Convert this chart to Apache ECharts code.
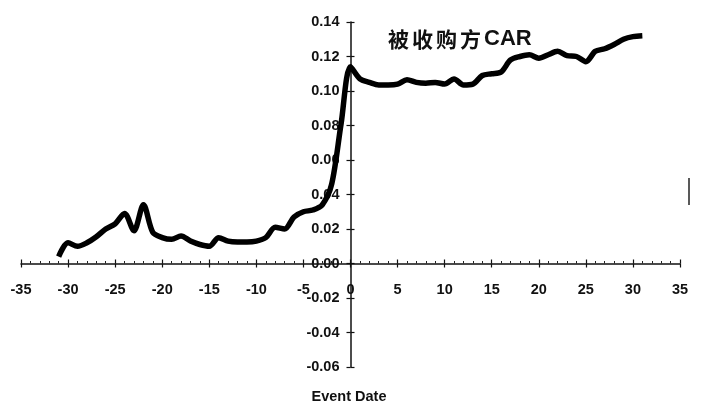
<!DOCTYPE html>
<html><head><meta charset="utf-8">
<script src="https://cdn.jsdelivr.net/npm/echarts@6/dist/echarts.min.js"></script>
<style>html,body{margin:0;padding:0;background:#fff}#c{width:702px;height:410px}</style>
</head><body><div id="c"></div>
<script>
const eventDays = [-31,-30,-29,-28,-27,-26,-25,-24,-23,-22,-21,-20,-19,-18,-17,-16,-15,-14,-13,-12,-11,-10,-9,-8,-7,-6,-5,-4,-3,-2,-1,0,1,2,3,4,5,6,7,8,9,10,11,12,13,14,15,16,17,18,19,20,21,22,23,24,25,26,27,28,29,30,31];
const targetCAR = [0.004,0.012,0.010,0.012,0.0155,0.020,0.023,0.029,0.019,0.034,0.018,0.015,0.014,0.016,0.013,0.011,0.010,0.015,0.013,0.0125,0.0125,0.013,0.015,0.021,0.020,0.027,0.030,0.031,0.034,0.046,0.081,0.114,0.107,0.105,0.1035,0.1035,0.104,0.1065,0.105,0.1045,0.105,0.104,0.107,0.1035,0.104,0.109,0.110,0.111,0.118,0.120,0.121,0.119,0.121,0.123,0.1205,0.120,0.117,0.123,0.1245,0.127,0.130,0.1315,0.132];
const xRange = [-35, 35, 5];
const yRange = [-0.06, 0.14, 0.02];
const titleChars = ['被', '收', '购', '方'];
const titleLatin = 'CAR';
const xAxisName = 'Event Date';

const W = 702, H = 410;
const G = {left: 21, right: 22, top: 22, bottom: 43};
const gw = W - G.left - G.right, gh = H - G.top - G.bottom;
// axes cross at zero of each other
const xZeroOff = gw * (0 - xRange[0]) / (xRange[1] - xRange[0]);
const yZeroOff = gh * (yRange[1] - 0) / (yRange[1] - yRange[0]);

const chart = echarts.init(document.getElementById('c'));
const font = '"Liberation Sans", Arial, sans-serif';
const lbl = {fontFamily: font, fontSize: 14.5, fontWeight: 'bold', color: '#111'};
const tickStyle = {color: '#111', width: 1.2};
const baseX = {type: 'value', min: xRange[0], max: xRange[1], interval: xRange[2], splitLine: {show: false}};
const baseY = {type: 'value', min: yRange[0], max: yRange[1], interval: yRange[2], splitLine: {show: false}};
chart.setOption({
  animation: false,
  backgroundColor: '#fff',
  grid: Object.assign({containLabel: false, outerBoundsMode: 'none'}, G),
  xAxis: [
    Object.assign({}, baseX, {
      position: 'bottom', offset: -(gh - yZeroOff),
      axisLine: {onZero: false, lineStyle: {color: '#111', width: 1.5}},
      axisTick: {show: true, length: 4, lineStyle: tickStyle},
      axisLabel: Object.assign({margin: 19}, lbl)
    }),
    Object.assign({}, baseX, {
      position: 'top', offset: -yZeroOff,
      axisLine: {show: false, onZero: false},
      axisTick: {show: true, length: 4, lineStyle: tickStyle},
      minorTick: {show: true, splitNumber: 5, length: 2.5, lineStyle: {color: '#222', width: 1}},
      axisLabel: {show: false}
    })
  ],
  yAxis: [
    Object.assign({}, baseY, {
      position: 'left', offset: -xZeroOff,
      axisLine: {onZero: false, lineStyle: {color: '#111', width: 1.5}},
      axisTick: {show: true, length: 4, lineStyle: tickStyle},
      axisLabel: Object.assign({margin: 11, formatter: v => v.toFixed(2)}, lbl)
    }),
    Object.assign({}, baseY, {
      position: 'right', offset: -(gw - xZeroOff),
      axisLine: {show: false, onZero: false},
      axisTick: {show: true, length: 4, lineStyle: tickStyle},
      axisLabel: {show: false}
    })
  ],
  series: [{
    type: 'line',
    xAxisIndex: 0, yAxisIndex: 0,
    data: eventDays.map((d, i) => [d, targetCAR[i]]),
    smooth: 0.3,
    showSymbol: false,
    lineStyle: {color: '#000', width: 5.5}
  }],
  graphic: [
    {type: 'text', left: 388, top: 28, style: {
      text: titleChars.map(c => '{c|' + c + '}').join('') + '{r|' + titleLatin + '}',
      rich: {
        c: {width: 24, fontFamily: '"Noto Sans CJK SC", sans-serif', fontSize: 21, fontWeight: 'bold', fill: '#111'},
        r: {fontFamily: font, fontSize: 22, fontWeight: 'bold', fill: '#111'}
      }
    }},
    {type: 'text', x: 349, y: 397, style: {text: xAxisName, align: 'center', verticalAlign: 'middle', fontFamily: font, fontSize: 14.5, fontWeight: 'bold', fill: '#111'}},
    {type: 'line', shape: {x1: 689, y1: 178, x2: 689, y2: 205}, style: {stroke: '#222', lineWidth: 1.5}}
  ]
});
</script></body></html>
